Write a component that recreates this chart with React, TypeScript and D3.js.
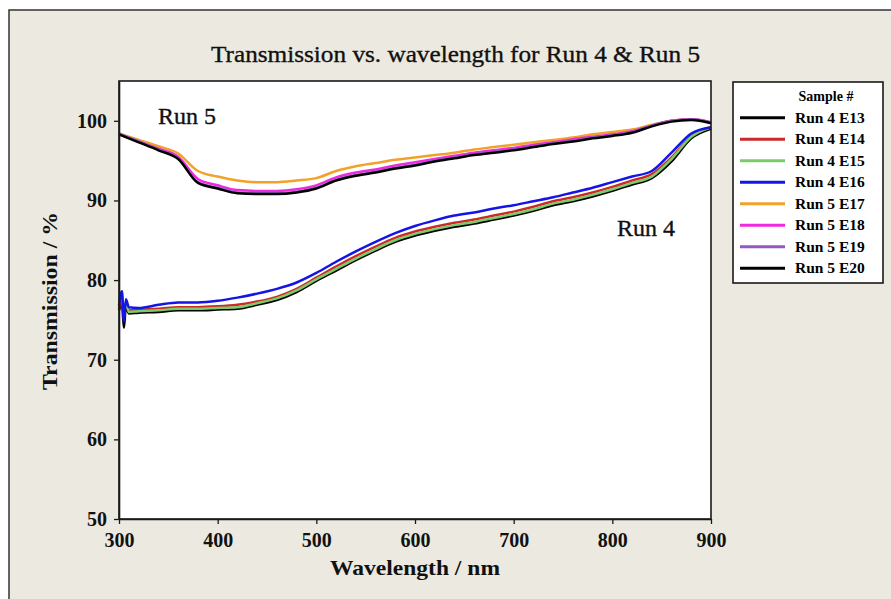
import React, { useRef, useEffect } from 'react';
import * as d3 from 'd3';

// wavelengths (nm)
const run4Wavelengths = [300, 303, 305, 307, 310, 320, 340, 360, 380, 400, 420, 440, 460, 480, 500, 520, 540, 560, 580, 600, 620, 640, 660, 680, 700, 720, 740, 760, 780, 800, 820, 840, 860, 880, 900];
const run5Wavelengths = [300, 320, 340, 360, 380, 400, 420, 440, 460, 480, 500, 520, 540, 560, 580, 600, 620, 640, 660, 680, 700, 720, 740, 760, 780, 800, 820, 840, 860, 880, 900];

// transmission (%)
const run4E13 = [76.2, 77.0, 74.0, 76.8, 75.8, 75.9, 76.0, 76.2, 76.2, 76.3, 76.4, 76.9, 77.5, 78.5, 79.9, 81.2, 82.5, 83.7, 84.8, 85.6, 86.2, 86.7, 87.1, 87.6, 88.1, 88.7, 89.4, 89.9, 90.5, 91.2, 92.0, 92.8, 94.9, 97.8, 99.0];
const run4E14 = [76.4, 77.8, 75.2, 77.3, 76.2, 76.3, 76.4, 76.6, 76.6, 76.7, 76.9, 77.3, 77.9, 78.9, 80.3, 81.7, 83.0, 84.2, 85.3, 86.1, 86.7, 87.2, 87.6, 88.1, 88.6, 89.2, 89.9, 90.4, 91.0, 91.7, 92.5, 93.3, 95.4, 98.1, 99.2];
const run4E15 = [77.6, 78.2, 75.6, 77.2, 76.0, 76.1, 76.2, 76.4, 76.4, 76.5, 76.6, 77.1, 77.7, 78.7, 80.1, 81.4, 82.7, 83.9, 85.0, 85.8, 86.4, 86.9, 87.3, 87.8, 88.3, 88.9, 89.6, 90.1, 90.7, 91.4, 92.2, 93.0, 95.2, 98.0, 99.2];
const run4E16 = [76.8, 78.6, 74.8, 77.6, 76.6, 76.5, 76.9, 77.2, 77.2, 77.4, 77.8, 78.3, 78.9, 79.7, 80.9, 82.3, 83.6, 84.8, 85.9, 86.8, 87.5, 88.1, 88.5, 89.0, 89.4, 89.9, 90.4, 91.0, 91.6, 92.3, 93.0, 93.7, 96.0, 98.4, 99.2];
const run5E17 = [98.4, 97.6, 96.8, 95.9, 93.7, 93.0, 92.5, 92.3, 92.3, 92.5, 92.8, 93.7, 94.3, 94.7, 95.1, 95.4, 95.7, 96.0, 96.4, 96.7, 97.0, 97.3, 97.6, 97.9, 98.3, 98.6, 98.9, 99.5, 100.0, 100.2, 99.8];
const run5E18 = [98.3, 97.4, 96.5, 95.5, 92.7, 91.9, 91.3, 91.2, 91.2, 91.4, 91.9, 92.9, 93.5, 93.9, 94.4, 94.8, 95.2, 95.6, 96.0, 96.3, 96.6, 97.0, 97.3, 97.7, 98.0, 98.3, 98.7, 99.4, 100.0, 100.2, 99.8];
const run5E19 = [98.4, 97.4, 96.4, 95.3, 92.3, 91.6, 91.0, 90.9, 90.9, 91.1, 91.6, 92.6, 93.2, 93.6, 94.1, 94.5, 95.0, 95.4, 95.8, 96.1, 96.4, 96.8, 97.2, 97.5, 97.9, 98.2, 98.6, 99.4, 100.0, 100.2, 99.8];
const run5E20 = [98.3, 97.3, 96.3, 95.2, 92.2, 91.5, 90.9, 90.8, 90.8, 91.0, 91.5, 92.5, 93.1, 93.5, 94.0, 94.4, 94.9, 95.3, 95.7, 96.0, 96.3, 96.7, 97.1, 97.4, 97.8, 98.1, 98.5, 99.3, 99.9, 100.1, 99.7];

const sampleNames = ['Run 4 E13', 'Run 4 E14', 'Run 4 E15', 'Run 4 E16', 'Run 5 E17', 'Run 5 E18', 'Run 5 E19', 'Run 5 E20'];
const sampleColors = ['#000000', '#cc2a2a', '#7ccb6a', '#1414e6', '#f2a229', '#ee2ade', '#9559bf', '#000000'];
const sampleValues = [run4E13, run4E14, run4E15, run4E16, run5E17, run5E18, run5E19, run5E20];
const sampleWavelengths = [run4Wavelengths, run4Wavelengths, run4Wavelengths, run4Wavelengths, run5Wavelengths, run5Wavelengths, run5Wavelengths, run5Wavelengths];

const xTicks = [300, 400, 500, 600, 700, 800, 900];
const yTicks = [50, 60, 70, 80, 90, 100];

const W = 891;
const H = 599;

const App = () => {
  const ref = useRef<SVGSVGElement>(null);

  useEffect(() => {
    const svg = d3.select(ref.current);
    svg.selectAll('*').remove();

    const plot = { left: 119, right: 711, top: 81, bottom: 519 };
    const font = '"Liberation Serif", "Times New Roman", serif';

    const x = d3.scaleLinear().domain([300, 900]).range([plot.left, plot.right]);
    const y = d3.scaleLinear().domain([50, 105]).range([plot.bottom, plot.top]);

    // outer panel
    svg.append('rect').attr('width', W).attr('height', H).attr('fill', '#ffffff');
    svg.append('rect')
      .attr('x', 9).attr('y', 10).attr('width', W + 10).attr('height', H + 10)
      .attr('fill', '#ece9e0').attr('stroke', '#333').attr('stroke-width', 1.5);

    // title
    svg.append('text')
      .attr('x', 455.5).attr('y', 62)
      .attr('text-anchor', 'middle')
      .attr('font-family', font)
      .attr('font-size', 24)
      .attr('fill', '#111').attr('stroke', '#111').attr('stroke-width', 0.35)
      .attr('textLength', 489).attr('lengthAdjust', 'spacingAndGlyphs')
      .text('Transmission vs. wavelength for Run 4 & Run 5');

    // plot area
    svg.append('rect')
      .attr('x', plot.left).attr('y', plot.top)
      .attr('width', plot.right - plot.left).attr('height', plot.bottom - plot.top)
      .attr('fill', '#fff');

    const g = svg.append('g');

    const line = d3.line<[number, number]>()
      .x(d => x(d[0]))
      .y(d => y(d[1]))
      .curve(d3.curveMonotoneX);

    sampleValues.forEach((vals, i) => {
      const pts = vals.map((v, j) => [sampleWavelengths[i][j], v] as [number, number]);
      g.append('path')
        .datum(pts)
        .attr('d', line)
        .attr('fill', 'none')
        .attr('stroke', sampleColors[i])
        .attr('stroke-width', 2.5);
    });

    svg.append('rect')
      .attr('x', plot.left).attr('y', plot.top)
      .attr('width', plot.right - plot.left).attr('height', plot.bottom - plot.top)
      .attr('fill', 'none').attr('stroke', '#1a1a1a').attr('stroke-width', 1.6);

    // axes
    const xAxis = svg.append('g')
      .attr('transform', `translate(0,${plot.bottom})`)
      .call(d3.axisBottom(x).tickValues(xTicks).tickSize(5).tickPadding(9).tickSizeOuter(0));
    const yAxis = svg.append('g')
      .attr('transform', `translate(${plot.left},0)`)
      .call(d3.axisLeft(y).tickValues(yTicks).tickSize(5).tickPadding(7).tickSizeOuter(0));

    [xAxis, yAxis].forEach(ax => {
      ax.select('.domain').attr('stroke', '#1a1a1a').attr('stroke-width', 1.6);
      ax.selectAll('.tick line').attr('stroke', '#1a1a1a').attr('stroke-width', 1.3);
      ax.selectAll('.tick text')
        .attr('fill', '#111')
        .attr('font-family', font)
        .attr('font-weight', 'bold')
        .attr('font-size', 20);
    });

    // axis titles
    svg.append('text')
      .attr('x', 415).attr('y', 575)
      .attr('text-anchor', 'middle')
      .attr('font-family', font).attr('font-weight', 'bold').attr('font-size', 22)
      .attr('fill', '#111')
      .attr('textLength', 170).attr('lengthAdjust', 'spacingAndGlyphs')
      .text('Wavelength / nm');

    svg.append('text')
      .attr('transform', 'translate(57,301) rotate(-90)')
      .attr('text-anchor', 'middle')
      .attr('font-family', font).attr('font-weight', 'bold').attr('font-size', 22)
      .attr('fill', '#111')
      .attr('textLength', 178).attr('lengthAdjust', 'spacingAndGlyphs')
      .text('Transmission / %');

    // run annotations
    svg.append('text')
      .attr('x', 158).attr('y', 124)
      .attr('font-family', font).attr('font-size', 24)
      .attr('fill', '#111').attr('stroke', '#111').attr('stroke-width', 0.35)
      .text('Run 5');
    svg.append('text')
      .attr('x', 617).attr('y', 236)
      .attr('font-family', font).attr('font-size', 24)
      .attr('fill', '#111').attr('stroke', '#111').attr('stroke-width', 0.35)
      .text('Run 4');

    // legend
    const legend = svg.append('g');
    legend.append('rect')
      .attr('x', 733).attr('y', 82).attr('width', 150).attr('height', 201)
      .attr('fill', '#fff').attr('stroke', '#1a1a1a').attr('stroke-width', 1.6);
    legend.append('text')
      .attr('x', 826).attr('y', 101)
      .attr('text-anchor', 'middle')
      .attr('font-family', font).attr('font-weight', 'bold').attr('font-size', 14)
      .text('Sample #');

    sampleNames.forEach((name, i) => {
      const cy = 117.7 + i * 21.5;
      legend.append('line')
        .attr('x1', 740).attr('x2', 785).attr('y1', cy).attr('y2', cy)
        .attr('stroke', sampleColors[i]).attr('stroke-width', 3);
      legend.append('text')
        .attr('x', 795).attr('y', cy + 5)
        .attr('font-family', font).attr('font-weight', 'bold').attr('font-size', 15.5)
        .text(name);
    });
  }, []);

  return (
    <svg
      ref={ref}
      width={W}
      height={H}
      style={{ position: 'absolute', left: 0, top: 0, display: 'block' }}
    />
  );
};

export default App;
